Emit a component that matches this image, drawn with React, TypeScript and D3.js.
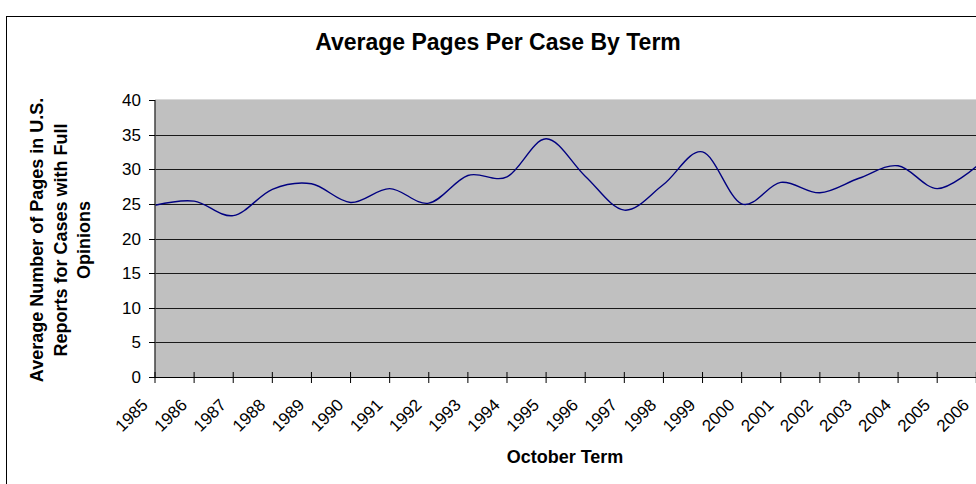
import * as d3 from "d3";

const years = [
  "1985", "1986", "1987", "1988", "1989", "1990", "1991", "1992", "1993", "1994", "1995",
  "1996", "1997", "1998", "1999", "2000", "2001", "2002", "2003", "2004", "2005", "2006",
];
const pages = [
  24.8, 25.4, 23.3, 27.1, 27.9, 25.2, 27.2, 25.1, 29.1, 28.9, 34.4,
  29.0, 24.1, 27.8, 32.5, 25.0, 28.1, 26.6, 28.7, 30.5, 27.2, 30.4,
];
const yTicks = [0, 5, 10, 15, 20, 25, 30, 35, 40];

const W = 976;
const H = 484;
const font = "'Liberation Sans', Arial, sans-serif";

export default function App() {
  const x = d3.scalePoint<string>().domain(years).range([155, 976.3]).padding(0);
  const y = d3.scaleLinear().domain([0, 40]).range([377, 100]);

  const line = d3
    .line<number>()
    .x((_, i) => x(years[i]) as number)
    .y((d) => y(d))
    .curve(d3.curveCardinal.tension(0));

  const x0 = x(years[0]) as number;

  return (
    <svg
      width={W}
      height={H}
      style={{ position: "absolute", left: 0, top: 0, background: "#fff" }}
      fontFamily={font}
    >
      {/* chart frame, cut off on the right and bottom */}
      <rect x={6.5} y={16.5} width={W + 20} height={H + 20} fill="#fff" stroke="#000" />

      <text x={498} y={50} textAnchor="middle" fontSize={23} fontWeight="bold">
        Average Pages Per Case By Term
      </text>

      {/* plot area */}
      <rect x={x0} y={y(40)} width={W - x0 + 20} height={y(0) - y(40)} fill="#c0c0c0" />
      <line x1={x0} x2={W} y1={y(40) - 0.5} y2={y(40) - 0.5} stroke="#d9d9d9" />

      {yTicks
        .filter((t) => t > 0 && t < 40)
        .map((t) => (
          <line key={t} x1={x0} x2={W} y1={Math.round(y(t)) + 0.5} y2={Math.round(y(t)) + 0.5} stroke="#1a1a1a" />
        ))}

      <path d={line(pages) ?? ""} fill="none" stroke="#000080" strokeWidth={1.4} />

      {/* y axis */}
      <line x1={x0} x2={x0} y1={y(40)} y2={y(0)} stroke="#404040" strokeWidth={1.5} />
      {yTicks.map((t) => (
        <g key={t}>
          <line x1={x0 - 6} x2={x0} y1={Math.round(y(t)) + 0.5} y2={Math.round(y(t)) + 0.5} stroke="#000" />
          <text x={141} y={y(t)} dy="0.36em" textAnchor="end" fontSize={17}>
            {t}
          </text>
        </g>
      ))}

      {/* x axis */}
      <line x1={x0} x2={W} y1={y(0) + 0.5} y2={y(0) + 0.5} stroke="#000" />
      {years.map((yr) => {
        const px = x(yr) as number;
        return (
          <g key={yr}>
            <line x1={px} x2={px} y1={y(0) - 5} y2={y(0) + 6} stroke="#000" />
            <text
              transform={`translate(${px - 6},${y(0) + 29}) rotate(-45)`}
              textAnchor="end"
              fontSize={17}
            >
              {yr}
            </text>
          </g>
        );
      })}

      <text x={565} y={463} textAnchor="middle" fontSize={18} fontWeight="bold">
        October Term
      </text>

      <text transform="translate(0,240) rotate(-90)" textAnchor="middle" fontSize={18} fontWeight="bold">
        <tspan x={0} y={43}>Average Number of Pages in U.S.</tspan>
        <tspan x={0} y={66.5}>Reports for Cases with Full</tspan>
        <tspan x={0} y={90}>Opinions</tspan>
      </text>
    </svg>
  );
}
